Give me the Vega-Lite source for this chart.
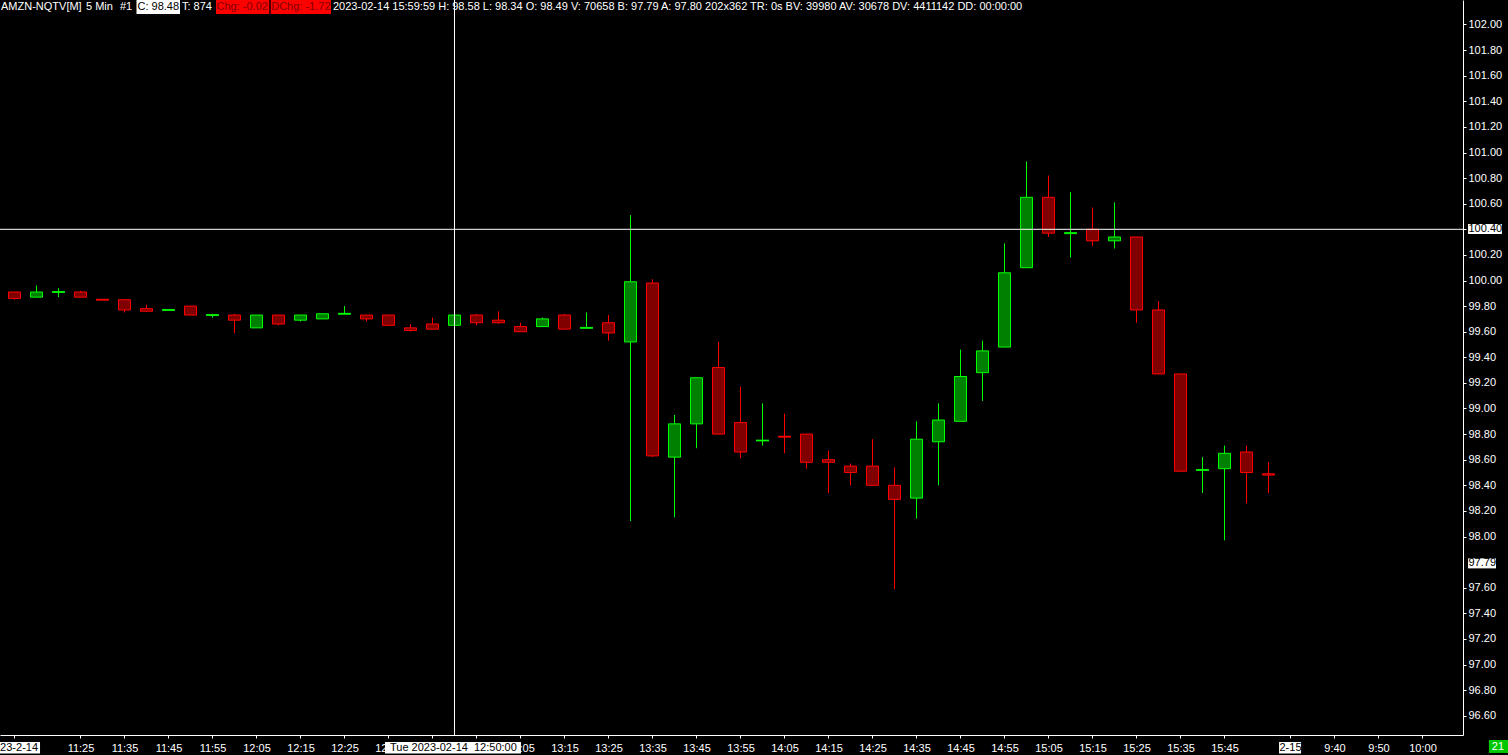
{
  "$schema": "https://vega.github.io/schema/vega-lite/v6.json",
  "width": 1463,
  "height": 735,
  "autosize": {"type": "none"},
  "padding": {"left": 0, "top": 0, "right": 45, "bottom": 20},
  "background": "#000000",
  "config": {
    "view": {"stroke": null},
    "text": {"font": "Liberation Sans", "fontSize": 11, "baseline": "middle"},
    "axis": {"labelOverlap": false, "labelFlush": false, "labelBound": false},
    "axisY": {"labelOverlap": false},
    "axisX": {"labelOverlap": false}
  },
  "datasets": {
    "bars": [
      {"i":0,"t":"11:10","o":99.91,"h":99.91,"l":99.85,"c":99.86,"d":"down"},
      {"i":1,"t":"11:15","o":99.87,"h":99.96,"l":99.87,"c":99.91,"d":"up"},
      {"i":2,"t":"11:20","o":99.91,"h":99.94,"l":99.87,"c":99.91,"d":"up"},
      {"i":3,"t":"11:25","o":99.91,"h":99.92,"l":99.87,"c":99.87,"d":"down"},
      {"i":4,"t":"11:30","o":99.85,"h":99.85,"l":99.85,"c":99.85,"d":"down"},
      {"i":5,"t":"11:35","o":99.85,"h":99.85,"l":99.75,"c":99.77,"d":"down"},
      {"i":6,"t":"11:40","o":99.78,"h":99.81,"l":99.76,"c":99.76,"d":"down"},
      {"i":7,"t":"11:45","o":99.77,"h":99.77,"l":99.77,"c":99.77,"d":"up"},
      {"i":8,"t":"11:50","o":99.80,"h":99.80,"l":99.73,"c":99.73,"d":"down"},
      {"i":9,"t":"11:55","o":99.73,"h":99.73,"l":99.71,"c":99.73,"d":"up"},
      {"i":10,"t":"12:00","o":99.73,"h":99.74,"l":99.59,"c":99.69,"d":"down"},
      {"i":11,"t":"12:05","o":99.63,"h":99.73,"l":99.63,"c":99.73,"d":"up"},
      {"i":12,"t":"12:10","o":99.73,"h":99.73,"l":99.65,"c":99.66,"d":"down"},
      {"i":13,"t":"12:15","o":99.69,"h":99.73,"l":99.68,"c":99.73,"d":"up"},
      {"i":14,"t":"12:20","o":99.70,"h":99.74,"l":99.70,"c":99.74,"d":"up"},
      {"i":15,"t":"12:25","o":99.74,"h":99.80,"l":99.74,"c":99.74,"d":"up"},
      {"i":16,"t":"12:30","o":99.73,"h":99.73,"l":99.68,"c":99.70,"d":"down"},
      {"i":17,"t":"12:35","o":99.73,"h":99.73,"l":99.65,"c":99.65,"d":"down"},
      {"i":18,"t":"12:40","o":99.63,"h":99.66,"l":99.60,"c":99.61,"d":"down"},
      {"i":19,"t":"12:45","o":99.66,"h":99.71,"l":99.62,"c":99.62,"d":"down"},
      {"i":20,"t":"12:50","o":99.65,"h":99.73,"l":99.65,"c":99.73,"d":"up"},
      {"i":21,"t":"12:55","o":99.73,"h":99.74,"l":99.65,"c":99.67,"d":"down"},
      {"i":22,"t":"13:00","o":99.69,"h":99.76,"l":99.66,"c":99.67,"d":"down"},
      {"i":23,"t":"13:05","o":99.64,"h":99.67,"l":99.60,"c":99.60,"d":"down"},
      {"i":24,"t":"13:10","o":99.64,"h":99.71,"l":99.64,"c":99.70,"d":"up"},
      {"i":25,"t":"13:15","o":99.73,"h":99.74,"l":99.62,"c":99.62,"d":"down"},
      {"i":26,"t":"13:20","o":99.63,"h":99.75,"l":99.63,"c":99.63,"d":"up"},
      {"i":27,"t":"13:25","o":99.67,"h":99.73,"l":99.53,"c":99.59,"d":"down"},
      {"i":28,"t":"13:30","o":99.52,"h":100.51,"l":98.12,"c":99.99,"d":"up"},
      {"i":29,"t":"13:35","o":99.98,"h":100.01,"l":98.62,"c":98.63,"d":"down"},
      {"i":30,"t":"13:40","o":98.62,"h":98.95,"l":98.15,"c":98.88,"d":"up"},
      {"i":31,"t":"13:45","o":98.88,"h":99.24,"l":98.69,"c":99.24,"d":"up"},
      {"i":32,"t":"13:50","o":99.32,"h":99.52,"l":98.80,"c":98.80,"d":"down"},
      {"i":33,"t":"13:55","o":98.89,"h":99.17,"l":98.61,"c":98.66,"d":"down"},
      {"i":34,"t":"14:00","o":98.75,"h":99.04,"l":98.71,"c":98.75,"d":"up"},
      {"i":35,"t":"14:05","o":98.78,"h":98.96,"l":98.65,"c":98.78,"d":"down"},
      {"i":36,"t":"14:10","o":98.80,"h":98.80,"l":98.53,"c":98.58,"d":"down"},
      {"i":37,"t":"14:15","o":98.60,"h":98.67,"l":98.34,"c":98.58,"d":"down"},
      {"i":38,"t":"14:20","o":98.55,"h":98.57,"l":98.40,"c":98.50,"d":"down"},
      {"i":39,"t":"14:25","o":98.55,"h":98.76,"l":98.40,"c":98.40,"d":"down"},
      {"i":40,"t":"14:30","o":98.40,"h":98.54,"l":97.59,"c":98.29,"d":"down"},
      {"i":41,"t":"14:35","o":98.30,"h":98.90,"l":98.14,"c":98.76,"d":"up"},
      {"i":42,"t":"14:40","o":98.74,"h":99.04,"l":98.40,"c":98.91,"d":"up"},
      {"i":43,"t":"14:45","o":98.90,"h":99.46,"l":98.90,"c":99.25,"d":"up"},
      {"i":44,"t":"14:50","o":99.28,"h":99.53,"l":99.06,"c":99.45,"d":"up"},
      {"i":45,"t":"14:55","o":99.48,"h":100.29,"l":99.48,"c":100.06,"d":"up"},
      {"i":46,"t":"15:00","o":100.10,"h":100.93,"l":100.10,"c":100.65,"d":"up"},
      {"i":47,"t":"15:05","o":100.65,"h":100.82,"l":100.34,"c":100.37,"d":"down"},
      {"i":48,"t":"15:10","o":100.37,"h":100.69,"l":100.18,"c":100.37,"d":"up"},
      {"i":49,"t":"15:15","o":100.40,"h":100.57,"l":100.27,"c":100.31,"d":"down"},
      {"i":50,"t":"15:20","o":100.31,"h":100.61,"l":100.25,"c":100.34,"d":"up"},
      {"i":51,"t":"15:25","o":100.34,"h":100.34,"l":99.67,"c":99.77,"d":"down"},
      {"i":52,"t":"15:30","o":99.77,"h":99.84,"l":99.27,"c":99.27,"d":"down"},
      {"i":53,"t":"15:35","o":99.27,"h":99.27,"l":98.51,"c":98.51,"d":"down"},
      {"i":54,"t":"15:40","o":98.52,"h":98.62,"l":98.34,"c":98.52,"d":"up"},
      {"i":55,"t":"15:45","o":98.53,"h":98.71,"l":97.97,"c":98.65,"d":"up"},
      {"i":56,"t":"15:50","o":98.66,"h":98.71,"l":98.26,"c":98.50,"d":"down"},
      {"i":57,"t":"15:55","o":98.49,"h":98.58,"l":98.34,"c":98.48,"d":"down"}
    ]
  },
  "data": {"name": "bars"},
  "layer": [
    {
      "mark": {"type": "rule", "strokeWidth": 1},
      "encoding": {
        "x": {
          "field": "i", "type": "quantitative", "title": null,
          "scale": {"domain": [-0.65909090909, 65.84090909091], "nice": false, "zero": false, "padding": 0},
          "axis": {
            "orient": "bottom", "title": null, "grid": false, "tickCount": 200,
            "values": [0,3,5,7,9,11,13,15,17,19,21,23,25,27,29,31,33,35,37,39,41,43,45,47,49,51,53,55,58,60,62,64],
            "labelExpr": "(datum.value == 0 || datum.value == 19 || datum.value == 21 || datum.value == 58) ? '' : (datum.value > 58 ? timeFormat(datetime(2023, 1, 15, 9, 30 + 5 * (datum.value - 58)), '%-H:%M') : timeFormat(datetime(2023, 1, 14, 11, 10 + 5 * datum.value), '%H:%M'))",
            "domainColor": "#ffffff", "tickColor": "#ffffff", "tickSize": 3,
            "labelColor": "#ffffff", "labelFont": "Liberation Sans", "labelFontSize": 11,
            "labelPadding": 4, "labelFlush": false, "labelOverlap": false, "labelBound": false
          }
        },
        "y": {
          "field": "l", "type": "quantitative", "title": null,
          "scale": {"domain": [96.44921875, 102.19140625], "nice": false, "zero": false, "padding": 0},
          "axis": {
            "orient": "right", "title": null, "grid": false, "tickCount": 200,
            "values": [96.6,96.8,97,97.2,97.4,97.6,98,98.2,98.4,98.6,98.8,99,99.2,99.4,99.6,99.8,100,100.2,100.4,100.6,100.8,101,101.2,101.4,101.6,101.8,102],
            "labelExpr": "abs(datum.value - 100.4) < 0.001 ? '' : format(datum.value, '.2f')",
            "domainColor": "#ffffff", "tickColor": "#ffffff", "tickSize": 3,
            "labelColor": "#ffffff", "labelFont": "Liberation Sans", "labelFontSize": 11,
            "labelPadding": 2, "labelFlush": false, "labelOverlap": false, "labelBound": false
          }
        },
        "y2": {"field": "h"},
        "color": {"field": "d", "type": "nominal", "scale": {"domain": ["up", "down"], "range": ["#00ff00", "#ff0000"]}, "legend": null}
      }
    },
    {
      "mark": {"type": "bar", "size": 12, "strokeWidth": 1, "orient": "vertical"},
      "encoding": {
        "x": {"field": "i", "type": "quantitative", "title": null},
        "y": {"field": "o", "type": "quantitative", "title": null},
        "y2": {"field": "c"},
        "fill": {"field": "d", "type": "nominal", "scale": {"domain": ["up", "down"], "range": ["#008000", "#800000"]}, "legend": null},
        "stroke": {"field": "d", "type": "nominal", "scale": {"domain": ["up", "down"], "range": ["#00ff00", "#ff0000"]}, "legend": null}
      }
    },
    {
      "transform": [{"filter": "datum.o == datum.c"}],
      "mark": {"type": "tick", "orient": "horizontal", "thickness": 2, "size": 13},
      "encoding": {
        "x": {"field": "i", "type": "quantitative", "title": null},
        "y": {"field": "c", "type": "quantitative", "title": null},
        "color": {"field": "d", "type": "nominal", "legend": null}
      }
    },
    {
      "data": {"values": [{}]},
      "mark": {"type": "rule", "color": "#ffffff", "strokeWidth": 1},
      "encoding": {"x": {"datum": 20, "type": "quantitative", "title": null}}
    },
    {
      "data": {"values": [{}]},
      "mark": {"type": "rule", "color": "#ffffff", "strokeWidth": 1},
      "encoding": {"y": {"datum": 100.4, "type": "quantitative", "title": null}}
    },
    {
      "data": {"values": [{}]},
      "mark": {"type": "rect", "color": "#ffffff"},
      "encoding": {
        "x": {"datum": -1.3, "type": "quantitative", "title": null}, "x2": {"datum": 1.16},
        "y": {"datum": 96.3945, "type": "quantitative", "title": null}, "y2": {"datum": 96.3047}
      }
    },
    {
      "data": {"values": [{}]},
      "mark": {"type": "text", "text": "2023-2-14", "color": "#000000", "align": "right"},
      "encoding": {"x": {"datum": 1.07, "type": "quantitative", "title": null}, "y": {"datum": 96.348, "type": "quantitative", "title": null}}
    },
    {
      "data": {"values": [{}]},
      "mark": {"type": "rect", "color": "#ffffff"},
      "encoding": {
        "x": {"datum": 16.84, "type": "quantitative", "title": null}, "x2": {"datum": 23.02},
        "y": {"datum": 96.3945, "type": "quantitative", "title": null}, "y2": {"datum": 96.3047}
      }
    },
    {
      "data": {"values": [{}]},
      "mark": {"type": "text", "text": "Tue 2023-02-14\u00a0\u00a012:50:00", "color": "#000000", "align": "center"},
      "encoding": {"x": {"datum": 19.95, "type": "quantitative", "title": null}, "y": {"datum": 96.348, "type": "quantitative", "title": null}}
    },
    {
      "data": {"values": [{}]},
      "mark": {"type": "rect", "color": "#ffffff"},
      "encoding": {
        "x": {"datum": 57.48, "type": "quantitative", "title": null}, "x2": {"datum": 58.48},
        "y": {"datum": 96.3945, "type": "quantitative", "title": null}, "y2": {"datum": 96.3047}
      }
    },
    {
      "data": {"values": [{}]},
      "mark": {"type": "text", "text": "2-15", "color": "#000000", "align": "center"},
      "encoding": {"x": {"datum": 58, "type": "quantitative", "title": null}, "y": {"datum": 96.348, "type": "quantitative", "title": null}}
    },
    {
      "data": {"values": [{}]},
      "mark": {"type": "rect", "color": "#ffffff"},
      "encoding": {
        "x": {"datum": 66.07, "type": "quantitative", "title": null}, "x2": {"datum": 67.61},
        "y": {"datum": 100.441, "type": "quantitative", "title": null}, "y2": {"datum": 100.363}
      }
    },
    {
      "data": {"values": [{}]},
      "mark": {"type": "text", "text": "100.40", "color": "#000000", "align": "left"},
      "encoding": {"x": {"datum": 66.09, "type": "quantitative", "title": null}, "y": {"datum": 100.4, "type": "quantitative", "title": null}}
    },
    {
      "data": {"values": [{}]},
      "mark": {"type": "rect", "color": "#ffffff"},
      "encoding": {
        "x": {"datum": 66.07, "type": "quantitative", "title": null}, "x2": {"datum": 67.34},
        "y": {"datum": 97.829, "type": "quantitative", "title": null}, "y2": {"datum": 97.751}
      }
    },
    {
      "data": {"values": [{}]},
      "mark": {"type": "text", "text": "97.79", "color": "#000000", "align": "left"},
      "encoding": {"x": {"datum": 66.09, "type": "quantitative", "title": null}, "y": {"datum": 97.79, "type": "quantitative", "title": null}}
    },
    {
      "data": {"values": [{}]},
      "mark": {"type": "rect", "color": "#00c800"},
      "encoding": {
        "x": {"datum": 67.02, "type": "quantitative", "title": null}, "x2": {"datum": 67.9},
        "y": {"datum": 96.41, "type": "quantitative", "title": null}, "y2": {"datum": 96.309}
      }
    },
    {
      "data": {"values": [{}]},
      "mark": {"type": "text", "text": "21", "color": "#ffffff", "align": "center"},
      "encoding": {"x": {"datum": 67.43, "type": "quantitative", "title": null}, "y": {"datum": 96.359, "type": "quantitative", "title": null}}
    },
    {
      "data": {"values": [{}]},
      "mark": {"type": "text", "text": "AMZN-NQTV[M]", "color": "#ffffff", "align": "left"},
      "encoding": {"x": {"datum": -0.6136, "type": "quantitative", "title": null}, "y": {"datum": 102.133, "type": "quantitative", "title": null}}
    },
    {
      "data": {"values": [{}]},
      "mark": {"type": "text", "text": "5 Min", "color": "#ffffff", "align": "left"},
      "encoding": {"x": {"datum": 3.25, "type": "quantitative", "title": null}, "y": {"datum": 102.133, "type": "quantitative", "title": null}}
    },
    {
      "data": {"values": [{}]},
      "mark": {"type": "text", "text": "#1", "color": "#ffffff", "align": "left"},
      "encoding": {"x": {"datum": 4.795, "type": "quantitative", "title": null}, "y": {"datum": 102.133, "type": "quantitative", "title": null}}
    },
    {
      "data": {"values": [{}]},
      "mark": {"type": "rect", "color": "#ffffff"},
      "encoding": {
        "x": {"datum": 5.545, "type": "quantitative", "title": null}, "x2": {"datum": 7.523},
        "y": {"datum": 102.1914, "type": "quantitative", "title": null}, "y2": {"datum": 102.0820}
      }
    },
    {
      "data": {"values": [{}]},
      "mark": {"type": "text", "text": "C: 98.48", "color": "#000000", "align": "left"},
      "encoding": {"x": {"datum": 5.591, "type": "quantitative", "title": null}, "y": {"datum": 102.133, "type": "quantitative", "title": null}}
    },
    {
      "data": {"values": [{}]},
      "mark": {"type": "text", "text": "T: 874", "color": "#ffffff", "align": "left"},
      "encoding": {"x": {"datum": 7.614, "type": "quantitative", "title": null}, "y": {"datum": 102.133, "type": "quantitative", "title": null}}
    },
    {
      "data": {"values": [{}]},
      "mark": {"type": "rect", "color": "#ff0000"},
      "encoding": {
        "x": {"datum": 9.159, "type": "quantitative", "title": null}, "x2": {"datum": 11.582},
        "y": {"datum": 102.1914, "type": "quantitative", "title": null}, "y2": {"datum": 102.0820}
      }
    },
    {
      "data": {"values": [{}]},
      "mark": {"type": "text", "text": "Chg: -0.02", "color": "#800000", "align": "left"},
      "encoding": {"x": {"datum": 9.182, "type": "quantitative", "title": null}, "y": {"datum": 102.133, "type": "quantitative", "title": null}}
    },
    {
      "data": {"values": [{}]},
      "mark": {"type": "rect", "color": "#ff0000"},
      "encoding": {
        "x": {"datum": 11.645, "type": "quantitative", "title": null}, "x2": {"datum": 14.386},
        "y": {"datum": 102.1914, "type": "quantitative", "title": null}, "y2": {"datum": 102.0820}
      }
    },
    {
      "data": {"values": [{}]},
      "mark": {"type": "text", "text": "DChg: -1.72", "color": "#800000", "align": "left"},
      "encoding": {"x": {"datum": 11.668, "type": "quantitative", "title": null}, "y": {"datum": 102.133, "type": "quantitative", "title": null}}
    },
    {
      "data": {"values": [{}]},
      "mark": {"type": "text", "text": "2023-02-14 15:59:59 H: 98.58 L: 98.34 O: 98.49 V: 70658 B: 97.79 A: 97.80 202x362 TR: 0s BV: 39980 AV: 30678 DV: 4411142 DD: 00:00:00", "color": "#ffffff", "align": "left"},
      "encoding": {"x": {"datum": 14.477, "type": "quantitative", "title": null}, "y": {"datum": 102.133, "type": "quantitative", "title": null}}
    }
  ]
}
